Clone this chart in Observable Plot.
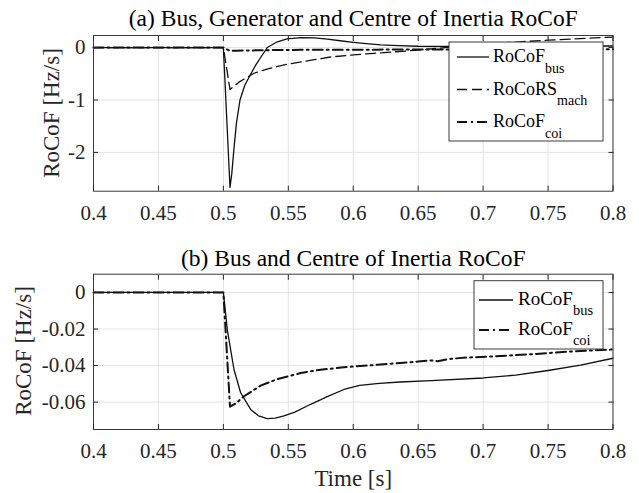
<!DOCTYPE html>
<html>
<head>
<meta charset="utf-8">
<script src="https://cdn.jsdelivr.net/npm/d3@7"></script>
<script src="https://cdn.jsdelivr.net/npm/@observablehq/plot@0.6"></script>
<style>
  html, body { margin: 0; padding: 0; background: white; }
  #chart svg { display: block; }
</style>
</head>
<body>
<div id="chart"></div>
<script>
// ---------- data ----------
const titleA = "(a) Bus, Generator and Centre of Inertia RoCoF";
const titleB = "(b) Bus and Centre of Inertia RoCoF";
const yLabel = "RoCoF [Hz/s]";
const xLabel = "Time [s]";

const xTicks = [0.4, 0.45, 0.5, 0.55, 0.6, 0.65, 0.7, 0.75, 0.8];
const xTickLabels = ["0.4", "0.45", "0.5", "0.55", "0.6", "0.65", "0.7", "0.75", "0.8"];
const yTicksA = [-2, -1, 0];
const yTickLabelsA = ["-2", "-1", "0"];
const yTicksB = [-0.06, -0.04, -0.02, 0];
const yTickLabelsB = ["-0.06", "-0.04", "-0.02", "0"];

// panel (a): bus RoCoF
const tBusA = [0.4, 0.5, 0.5051, 0.5065, 0.5079, 0.51, 0.5128, 0.5165, 0.521, 0.525, 0.5287, 0.5338, 0.5415, 0.549, 0.56, 0.57, 0.58, 0.59, 0.6, 0.61, 0.621, 0.635, 0.65, 0.7, 0.75, 0.8];
const busA  = [0, 0, -2.67, -2.4, -2.0, -1.45, -1.0, -0.72, -0.51, -0.33, -0.19, 0, 0.11, 0.165, 0.19, 0.185, 0.16, 0.13, 0.10, 0.075, 0.05, 0.035, 0.025, 0.02, 0.025, 0.03];
// panel (a): machine RoCoRS
const tMach = [0.4, 0.5, 0.5051, 0.512, 0.5236, 0.535, 0.549, 0.57, 0.5825, 0.6, 0.616, 0.642, 0.667, 0.7, 0.75, 0.8];
const mach  = [0, 0, -0.80, -0.66, -0.49, -0.40, -0.32, -0.23, -0.18, -0.14, -0.11, -0.063, -0.01, 0.07, 0.14, 0.20];
// centre of inertia RoCoF (both panels)
const tCoi = [0.4, 0.5, 0.5051, 0.51, 0.5159, 0.5287, 0.5415, 0.5595, 0.5748, 0.5928, 0.6185, 0.636, 0.65, 0.66, 0.665, 0.675, 0.688, 0.713, 0.739, 0.765, 0.8];
const coi  = [0, 0, -0.0625, -0.0605, -0.0568, -0.051, -0.0474, -0.0441, -0.0423, -0.0409, -0.0396, -0.0386, -0.0378, -0.0372, -0.0376, -0.0363, -0.0356, -0.0348, -0.0337, -0.0324, -0.0312];
// panel (b): bus RoCoF
const tBusB = [0.4, 0.5, 0.5031, 0.5082, 0.5133, 0.521, 0.527, 0.5338, 0.54, 0.5466, 0.555, 0.5672, 0.58, 0.5928, 0.605, 0.62, 0.636, 0.66, 0.7, 0.725, 0.75, 0.775, 0.8];
const busB  = [0, 0, -0.0207, -0.0423, -0.0549, -0.064, -0.0675, -0.069, -0.0688, -0.0676, -0.0655, -0.0612, -0.057, -0.0531, -0.0508, -0.0497, -0.049, -0.0483, -0.0468, -0.0452, -0.0427, -0.0398, -0.036];

const legendNamesA = [["RoCoF", "bus"], ["RoCoRS", "mach"], ["RoCoF", "coi"]];
const legendNamesB = [["RoCoF", "bus"], ["RoCoF", "coi"]];

// ---------- helpers ----------
const zip = (t, v) => t.map((x, i) => ({x, y: v[i]}));
const FONT = "Liberation Serif, Times New Roman, serif";
const INK = "#262626";
const GRID = "#e3e3e3";
const styles = {
  bus:  {stroke: "#111", strokeWidth: 1.3},
  mach: {stroke: "#111", strokeWidth: 1.3, strokeDasharray: "10,5"},
  coi:  {stroke: "#111", strokeWidth: 2, strokeDasharray: "10,4,2,4"}
};
const fmt = (ticks, labels) => d => labels[ticks.indexOf(d)];

function panel({height, marginTop, marginBottom, yDomain, yTicks, yLabels, title, titleDy, series, xlab}) {
  const marks = [
    Plot.gridX(xTicks, {stroke: GRID, strokeOpacity: 1}),
    Plot.gridY(yTicks, {stroke: GRID, strokeOpacity: 1}),
    ...series.map(([data, st]) => Plot.line(data, {x: "x", y: "y", ...st})),
    Plot.frame({stroke: "#3a3a3a", strokeWidth: 1}),
    Plot.axisX(xTicks, {anchor: "bottom", tickSize: -5, tickPadding: 19, tickFormat: fmt(xTicks, xTickLabels), label: null, stroke: INK}),
    Plot.axisX(xTicks, {anchor: "top", tickSize: -5, tickFormat: () => "", label: null, stroke: INK}),
    Plot.axisY(yTicks, {anchor: "left", tickSize: -5, tickPadding: 13, tickFormat: fmt(yTicks, yLabels), label: null, stroke: INK}),
    Plot.axisY(yTicks, {anchor: "right", tickSize: -5, tickFormat: () => "", label: null, stroke: INK}),
    Plot.text([title], {frameAnchor: "top", lineAnchor: "bottom", dy: titleDy, fontSize: 23.5, fill: "#000"})
  ];
  if (xlab) marks.push(Plot.text([xLabel], {frameAnchor: "bottom", lineAnchor: "bottom", dy: 56, fontSize: 23, fill: INK}));
  return Plot.plot({
    width: 639, height, marginLeft: 93, marginRight: 26.5, marginTop, marginBottom,
    x: {domain: [0.4, 0.8]},
    y: {domain: yDomain},
    style: {fontFamily: FONT, fontSize: "21px", color: INK, background: "white", overflow: "visible"},
    marks
  });
}

function addYLabel(svg, cx, cy) {
  d3.select(svg).append("text")
    .attr("transform", `translate(${cx},${cy}) rotate(-90)`)
    .attr("text-anchor", "middle").attr("dy", "0.32em")
    .attr("font-family", FONT).attr("font-size", 23).attr("fill", INK)
    .text(yLabel);
}

function addLegend(svg, L, names, sts) {
  const g = d3.select(svg).append("g");
  g.append("rect").attr("x", L.x).attr("y", L.y).attr("width", L.w).attr("height", L.h)
    .attr("fill", "white").attr("stroke", "#3a3a3a").attr("stroke-width", 1);
  names.forEach(([main, sub], i) => {
    const y = L.rowY[i];
    const st = sts[i];
    g.append("line").attr("x1", L.lx1).attr("x2", L.lx2).attr("y1", y).attr("y2", y)
      .attr("stroke", st.stroke).attr("stroke-width", st.strokeWidth)
      .attr("stroke-dasharray", st.strokeDasharray || null);
    const t = g.append("text").attr("x", L.tx).attr("y", y + L.base)
      .attr("text-anchor", "start")
      .attr("font-family", FONT).attr("font-size", L.font).attr("fill", "#000");
    t.append("tspan").text(main);
    t.append("tspan").attr("dy", L.subDy).attr("font-size", L.sub).text(sub);
  });
}

// ---------- build ----------
const svgA = panel({
  height: 240, marginTop: 35, marginBottom: 49.3,
  yDomain: [-2.74, 0.23], yTicks: yTicksA, yLabels: yTickLabelsA,
  title: titleA, titleDy: -10,
  series: [[zip(tBusA, busA), styles.bus], [zip(tMach, mach), styles.mach], [zip(tCoi, coi), styles.coi]]
});
const svgB = panel({
  height: 253, marginTop: 33.7, marginBottom: 64,
  yDomain: [-0.075, 0.01], yTicks: yTicksB, yLabels: yTickLabelsB,
  title: titleB, titleDy: -8,
  series: [[zip(tBusB, busB), styles.bus], [zip(tCoi, coi), styles.coi]],
  xlab: true
});

addYLabel(svgA, 52, 113);
addYLabel(svgB, 24, 111);

addLegend(svgA, {x: 449, y: 42, w: 154, h: 99, lx1: 457, lx2: 489, tx: 493, rowY: [57, 89.5, 122], base: 5, subDy: 10.5, font: 18, sub: 14},
  legendNamesA, [styles.bus, styles.mach, styles.coi]);
addLegend(svgB, {x: 474, y: 40.7, w: 129, h: 68.3, lx1: 479, lx2: 513, tx: 518, rowY: [60, 90], base: 5, subDy: 10, font: 19, sub: 14.5},
  legendNamesB, [styles.bus, styles.coi]);

const root = document.getElementById("chart");
root.appendChild(svgA);
root.appendChild(svgB);
</script>
</body>
</html>
